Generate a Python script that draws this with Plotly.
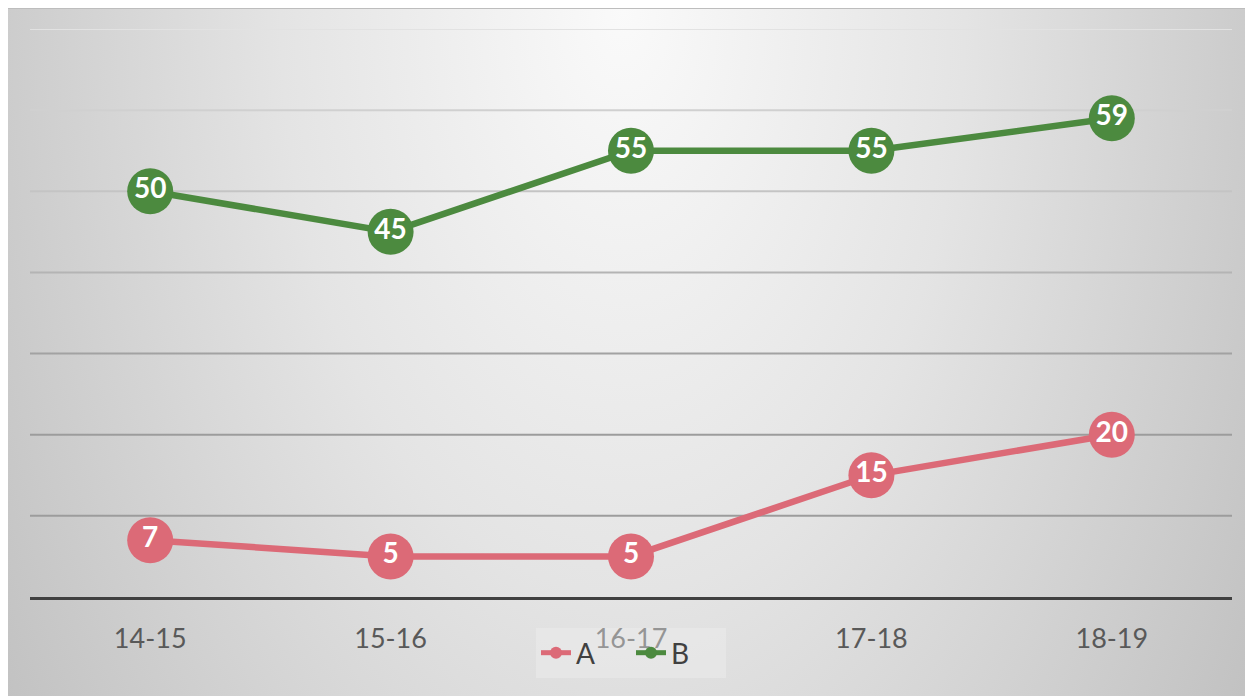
import base64
import plotly.graph_objects as go

# ---- data ----
categories = ["14-15", "15-16", "16-17", "17-18", "18-19"]
series_a = [7, 5, 5, 15, 20]
series_b = [50, 45, 55, 55, 59]
grid_values = [10, 20, 30, 40, 50, 60, 70]

# ---- styles ----
COLOR_A = "#dc6a77"
COLOR_B = "#4c8a3f"
grid_colors = ["#9c9c9c", "#9c9c9c", "#a2a2a2", "#b4b4b4", "#c4c4c4", "#d0d0d0", "#e2e2e2"]
FONT = "Lato, 'Open Sans', sans-serif"

# page has an 8px body margin; figure occupies the rest of the window
W, H = 1245, 688
L, R, T, B = 22, 21, 21, 99
plot_w = W - L - R
plot_h = H - T - B

# background gradient as svg image
bg_w, bg_h = W, H
svg = (
    f'<svg xmlns="http://www.w3.org/2000/svg" width="{bg_w}" height="{bg_h}">'
    '<defs><radialGradient id="g" gradientUnits="userSpaceOnUse" cx="0" cy="0" r="1" '
    'gradientTransform="translate(615,0) scale(760,1300)">'
    '<stop offset="0" stop-color="#fafafa"/><stop offset="0.45" stop-color="#e4e4e4"/>'
    '<stop offset="1" stop-color="#c0c0c0"/>'
    '</radialGradient></defs>'
    f'<rect x="0" y="0" width="{bg_w}" height="{bg_h}" fill="url(#g)"/>'
    f'<line x1="0" y1="0.5" x2="{bg_w}" y2="0.5" stroke="#bdbdbd" stroke-width="1"/>'
    '</svg>'
)
src = "data:image/svg+xml;base64," + base64.b64encode(svg.encode()).decode()

fig = go.Figure()

for name, vals, col in [("A", series_a, COLOR_A), ("B", series_b, COLOR_B)]:
    fig.add_trace(go.Scatter(
        x=categories, y=vals, name=name,
        mode="lines+markers+text",
        line=dict(color=col, width=6.5),
        marker=dict(color=col, size=46, line=dict(width=0)),
        text=[str(v) for v in vals],
        textposition="middle center",
        textfont=dict(family=FONT, size=28, color="white", weight="bold"),
        cliponaxis=False,
        hoverinfo="skip",
    ))

shapes = []
for v, c in zip(grid_values, grid_colors):
    shapes.append(dict(type="line", xref="paper", yref="y", x0=0, x1=1, y0=v, y1=v,
                       line=dict(color=c, width=2), layer="below"))

fig.update_layout(
    width=W, height=H,
    margin=dict(l=L, r=R, t=T, b=B),
    paper_bgcolor="white",
    plot_bgcolor="rgba(0,0,0,0)",
    images=[dict(source=src, xref="paper", yref="paper",
                 x=-L / plot_w, y=1 + T / plot_h,
                 sizex=bg_w / plot_w, sizey=bg_h / plot_h,
                 xanchor="left", yanchor="top", sizing="stretch", layer="below")],
    shapes=shapes,
    xaxis=dict(type="category", range=[-0.5, 4.5], showgrid=False, zeroline=False,
               showline=True, linecolor="#404040", linewidth=3,
               ticks="", ticklabelstandoff=16,
               tickfont=dict(family=FONT, size=27, color="#595959")),
    yaxis=dict(range=[0, 70], showgrid=False, zeroline=False, showticklabels=False,
               showline=False, ticks=""),
    showlegend=True,
    legend=dict(orientation="h", x=0.5, xanchor="center", y=-31 / plot_h, yanchor="top",
                bgcolor="rgba(240,240,240,0.4)", font=dict(family=FONT, size=28, color="#404040"),
                itemsizing="constant", traceorder="normal", entrywidth=50,
                borderwidth=0),
    font=dict(family=FONT),
)

fig.write_html("out.html")
